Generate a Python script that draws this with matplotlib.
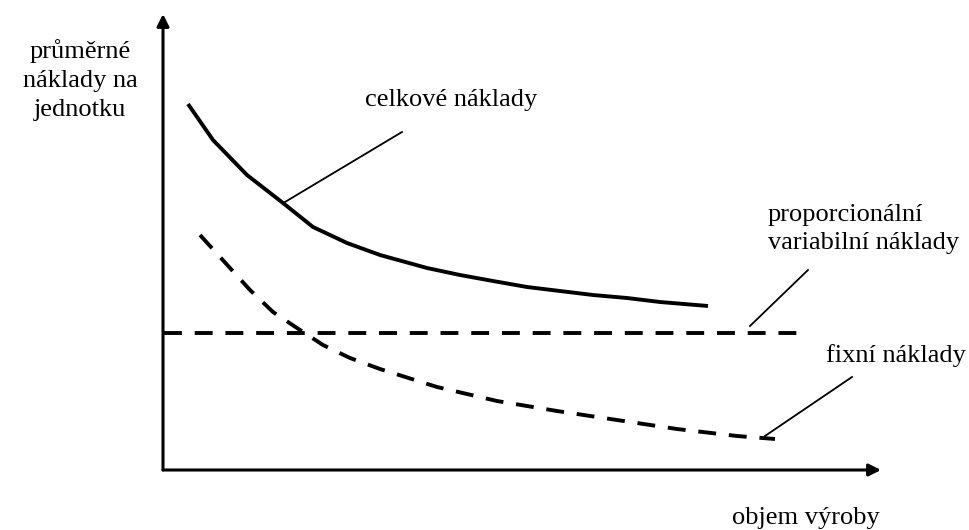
import matplotlib
matplotlib.use("Agg")
import matplotlib.pyplot as plt

plt.rcParams['font.family'] = ['Liberation Serif', 'DejaVu Serif']

# average costs per unit (arbitrary units)
total_x = [25, 50, 84, 120, 150, 184, 217, 264, 297, 330, 364, 397, 430, 464, 497, 545]
total_y = [366, 330, 295, 267, 243, 227, 215, 202, 195, 189, 183, 179, 175, 172, 168, 164]

fixed_x = [37, 67, 87, 110, 134, 160, 187, 217, 274, 334, 394, 454, 514, 574, 612]
fixed_y = [235, 202, 180, 158, 142, 125, 112, 101, 83, 69, 59, 50, 41, 34, 31]

var_x = [1, 636]
var_y = [137, 137]

fig = plt.figure(figsize=(9.7, 5.3), dpi=100)
ax = fig.add_axes([0, 0, 1, 1])
ax.set_xlim(-163, 807)
ax.set_ylim(-60, 470)
ax.axis('off')

# axes with arrows
arrow = dict(arrowstyle='-|>', lw=2.2, color='black', mutation_scale=18, shrinkA=0, shrinkB=0)
ax.annotate('', xy=(718, 0), xytext=(0, 0), arrowprops=arrow)
ax.annotate('', xy=(0, 456), xytext=(0, 0), arrowprops=arrow)

ax.plot(total_x, total_y, color='black', lw=2.8, solid_capstyle='butt',
        solid_joinstyle='round')
ax.plot(fixed_x, fixed_y, color='black', lw=2.8, dashes=(4.6, 3.3))
ax.plot(var_x, var_y, color='black', lw=2.8, dashes=(4.6, 3.3))

# leader lines
ax.plot([122, 239], [268, 338], color='black', lw=1.3)
ax.plot([587, 645], [144, 200], color='black', lw=1.3)
ax.plot([602, 689], [34, 93], color='black', lw=1.3)

fs = 19
ax.text(-83, 390, 'průměrné\nnáklady na\njednotku', ha='center', va='center',
        fontsize=fs, linespacing=1.42)
ax.text(202, 370, 'celkové náklady', ha='left', va='center', fontsize=fs)
ax.text(605, 241, 'proporcionální\nvariabilní náklady', ha='left', va='center',
        fontsize=fs, linespacing=1.3)
ax.text(663, 114, 'fixní náklady', ha='left', va='center', fontsize=fs)
ax.text(717, -48, 'objem výroby', ha='right', va='center', fontsize=fs)

fig.savefig('out.png', dpi=100)
